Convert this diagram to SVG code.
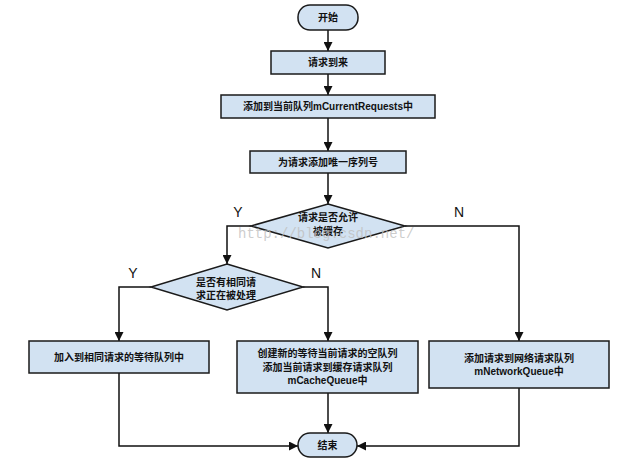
<svg xmlns="http://www.w3.org/2000/svg" width="630" height="472" viewBox="0 0 630 472">
<style>
.n{fill:#d2e2f2;stroke:#1a1a1a;stroke-width:1.5}
.t{font-family:"Liberation Sans","Noto Sans CJK SC",sans-serif;font-size:10px;font-weight:bold;fill:#111;text-anchor:middle}
.l{font-family:"Liberation Sans","Noto Sans CJK SC",sans-serif;font-size:14px;fill:#111;text-anchor:middle}
.c{fill:none;stroke:#111;stroke-width:1.5;marker-end:url(#a)}
.w{font-family:"Liberation Mono",monospace;font-size:14px;fill:#bfbfbf;fill-opacity:0.8}
</style>
<defs>
<marker id="a" viewBox="0 0 10 10" markerWidth="9" markerHeight="9" markerUnits="userSpaceOnUse" orient="auto" refX="10" refY="5">
<path d="M0,0 L10,5 L0,10 z" fill="#111"/>
</marker>
</defs>
<rect width="630" height="472" fill="#fff"/>
<g id="connectors">
<path class="c" d="M328,30 V51"/>
<path class="c" d="M328,74 V95"/>
<path class="c" d="M328,118 V151"/>
<path class="c" d="M328,173 V204"/>
<path class="c" d="M251,226 H227 V264"/>
<path class="c" d="M405,226 H519 V341"/>
<path class="c" d="M151,287 H119 V341"/>
<path class="c" d="M303,287 H328 V341"/>
<path class="c" d="M119,373 V446 H298"/>
<path class="c" d="M328,393 V433"/>
<path class="c" d="M519,388 V446 H357"/>
<text class="l" x="238" y="217">Y</text>
<text class="l" x="459" y="217">N</text>
<text class="l" x="133" y="278">Y</text>
<text class="l" x="316" y="278">N</text>
</g>
<g id="start">
<rect class="n" x="298" y="5" width="60" height="25" rx="12" ry="12"/>
<text class="t" x="328" y="21">开始</text>
</g>
<g id="receive">
<rect class="n" x="271" y="51" width="114" height="23"/>
<text class="t" x="328" y="66">请求到来</text>
</g>
<g id="addCurrent">
<rect class="n" x="221" y="95" width="214" height="23"/>
<text class="t" x="328" y="110">添加到当前队列mCurrentRequests中</text>
</g>
<g id="addSeq">
<rect class="n" x="250" y="151" width="156" height="22"/>
<text class="t" x="328" y="166">为请求添加唯一序列号</text>
</g>
<g id="cacheable">
<polygon class="n" points="328,204 405,226 328,248 251,226"/>
<text class="t" x="328" y="221">请求是否允许</text>
<text class="t" x="328" y="235">被缓存</text>
</g>
<g id="inFlight">
<polygon class="n" points="227,264 303,287 227,310 151,287"/>
<text class="t" x="226" y="286">是否有相同请</text>
<text class="t" x="226" y="299">求正在被处理</text>
</g>
<g id="waitQueue">
<rect class="n" x="29" y="341" width="180" height="32"/>
<text class="t" x="119" y="361">加入到相同请求的等待队列中</text>
</g>
<g id="cacheQueue">
<rect class="n" x="237" y="341" width="181" height="52"/>
<text class="t" x="327.5" y="357">创建新的等待当前请求的空队列</text>
<text class="t" x="327.5" y="370.5">添加当前请求到缓存请求队列</text>
<text class="t" x="327.5" y="384">mCacheQueue中</text>
</g>
<g id="networkQueue">
<rect class="n" x="429" y="341" width="180" height="47"/>
<text class="t" x="519" y="362">添加请求到网络请求队列</text>
<text class="t" x="519" y="375">mNetworkQueue中</text>
</g>
<g id="end">
<rect class="n" x="298" y="433" width="59" height="24" rx="12" ry="12"/>
<text class="t" x="327.5" y="448.5">结束</text>
</g>
<text class="w" x="238" y="238">http://blog.csdn.net/</text>
</svg>
